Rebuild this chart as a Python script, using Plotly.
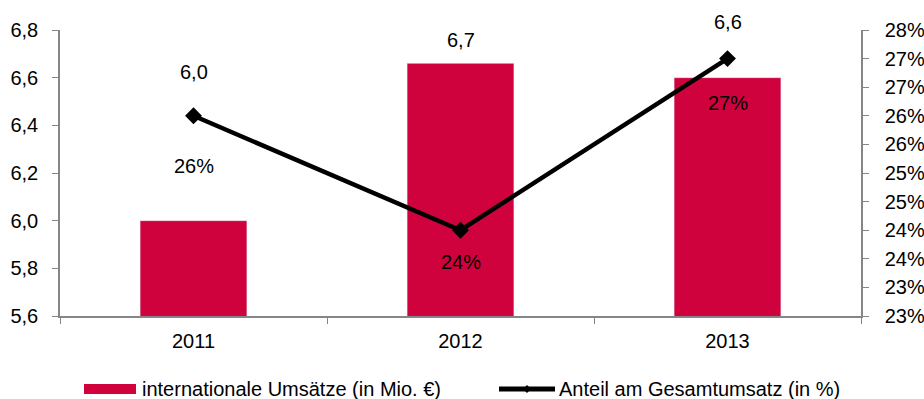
import math
import plotly.graph_objects as go

# --- data ---
years = ["2011", "2012", "2013"]
umsatz_mio = [6.0, 6.66, 6.6]          # internationale Umsätze (in Mio. €)
anteil_pct = [26.0, 24.0, 27.0]         # Anteil am Gesamtumsatz (in %)
left_ticks = [5.6, 5.8, 6.0, 6.2, 6.4, 6.6, 6.8]
right_ticks = [22.5, 23.0, 23.5, 24.0, 24.5, 25.0, 25.5, 26.0, 26.5, 27.0, 27.5]

bar_name = "internationale Umsätze (in Mio. €)"
line_name = "Anteil am Gesamtumsatz (in %)"

# --- styling ---
W, H = 924, 399
ML, MR, MT, MB = 60, 63, 30, 83
RED = "#CF023D"
AXIS = "#868686"
FONT = "Liberation Sans, Arial, sans-serif"
FS = 20

PW = W - ML - MR
PH = H - MT - MB


def px_x(px):
    return (px - ML) / PW


def px_y(py):
    return (H - MB - py) / PH


fig = go.Figure()
fig.add_trace(go.Bar(
    x=years, y=umsatz_mio, name=bar_name, marker_color=RED,
    width=0.4, yaxis="y", showlegend=False,
))
fig.add_trace(go.Scatter(
    x=years, y=anteil_pct, name=line_name, yaxis="y2", mode="lines+markers",
    line=dict(color="black", width=4.5),
    marker=dict(symbol="diamond", size=13, color="black"),
    showlegend=False,
))

# value labels, offset in pixels from their marks (x given as category index)
bar_shift = [149, 23, 56]
line_shift = [-50, -32, -44]
for i in range(len(years)):
    fig.add_annotation(
        x=i, xref="x", y=umsatz_mio[i], yref="y",
        text=f"{umsatz_mio[i]:.1f}".replace(".", ","),
        showarrow=False, yshift=bar_shift[i], font=dict(size=FS, color="black", family=FONT),
    )
    fig.add_annotation(
        x=i, xref="x", y=anteil_pct[i], yref="y2", text=f"{anteil_pct[i]:.0f}%",
        showarrow=False, yshift=line_shift[i], font=dict(size=FS, color="black", family=FONT),
    )

# legend drawn below the plot
fig.add_shape(type="rect", xref="paper", yref="paper",
              x0=px_x(84), x1=px_x(136), y0=px_y(394), y1=px_y(384),
              fillcolor=RED, line=dict(width=0))
fig.add_annotation(xref="paper", yref="paper", x=px_x(140), y=px_y(389),
                   xanchor="left", yanchor="middle", showarrow=False, text=bar_name,
                   font=dict(size=FS, color="black", family=FONT))
fig.add_shape(type="line", xref="paper", yref="paper",
              x0=px_x(499), x1=px_x(555), y0=px_y(389), y1=px_y(389),
              line=dict(color="black", width=5))
cx, cy, d = 527, 389, 4
fig.add_shape(type="path", xref="paper", yref="paper",
              path=(f"M {px_x(cx - d)} {px_y(cy)} L {px_x(cx)} {px_y(cy - d)} "
                    f"L {px_x(cx + d)} {px_y(cy)} L {px_x(cx)} {px_y(cy + d)} Z"),
              fillcolor="black", line=dict(width=0))
fig.add_annotation(xref="paper", yref="paper", x=px_x(557), y=px_y(389),
                   xanchor="left", yanchor="middle", showarrow=False, text=line_name,
                   font=dict(size=FS, color="black", family=FONT))

fig.update_layout(
    width=W, height=H,
    margin=dict(l=ML, r=MR, t=MT, b=MB),
    paper_bgcolor="white", plot_bgcolor="white",
    separators=",.",
    font=dict(family=FONT, size=FS, color="black"),
    xaxis=dict(
        type="category", tickson="boundaries", ticks="outside", ticklen=6,
        tickcolor=AXIS, showline=True, linecolor=AXIS, linewidth=1.5,
        showgrid=False, zeroline=False, range=[-0.5, 2.5], ticklabelstandoff=6,
        automargin=False,
    ),
    yaxis=dict(
        range=[left_ticks[0], left_ticks[-1]], tickvals=left_ticks, tickformat=".1f",
        ticks="outside", ticklen=6, tickcolor=AXIS, showline=True, linecolor=AXIS,
        linewidth=1.5, showgrid=False, zeroline=False, ticklabelstandoff=10,
        automargin=False,
    ),
    yaxis2=dict(
        overlaying="y", side="right",
        range=[right_ticks[0], right_ticks[-1]], tickvals=right_ticks,
        ticktext=[f"{math.floor(v + 0.5)}%" for v in right_ticks],
        ticks="outside", ticklen=6, tickcolor=AXIS, showline=True, linecolor=AXIS,
        linewidth=1.5, showgrid=False, zeroline=False, ticklabelstandoff=12,
        automargin=False,
    ),
)

fig.write_html("out.html")
